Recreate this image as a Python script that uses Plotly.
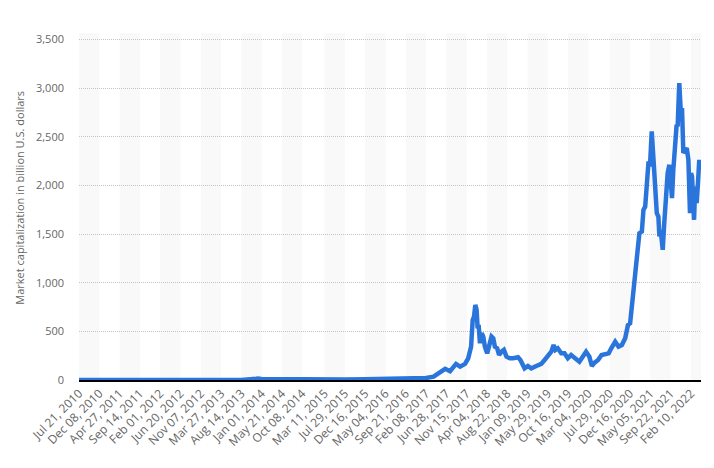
import plotly.graph_objects as go

# Tick labels (category labels shown on the x axis)
tick_dates = ["2010-07-21", "2010-12-08", "2011-04-27", "2011-09-14", "2012-02-01", "2012-06-20",
              "2012-11-07", "2013-03-27", "2013-08-14", "2014-01-01", "2014-05-21", "2014-10-08",
              "2015-03-11", "2015-07-29", "2015-12-16", "2016-05-04", "2016-09-21", "2017-02-08",
              "2017-06-28", "2017-11-15", "2018-04-04", "2018-08-22", "2019-01-09", "2019-05-29",
              "2019-10-16", "2020-03-04", "2020-07-29", "2020-12-16", "2021-05-05", "2021-09-22",
              "2022-02-10"]
tick_labels = ["Jul 21, 2010", "Dec 08, 2010", "Apr 27, 2011", "Sep 14, 2011", "Feb 01, 2012",
               "Jun 20, 2012", "Nov 07, 2012", "Mar 27, 2013", "Aug 14, 2013", "Jan 01, 2014",
               "May 21, 2014", "Oct 08, 2014", "Mar 11, 2015", "Jul 29, 2015", "Dec 16, 2015",
               "May 04, 2016", "Sep 21, 2016", "Feb 08, 2017", "Jun 28, 2017", "Nov 15, 2017",
               "Apr 04, 2018", "Aug 22, 2018", "Jan 09, 2019", "May 29, 2019", "Oct 16, 2019",
               "Mar 04, 2020", "Jul 29, 2020", "Dec 16, 2020", "May 05, 2021", "Sep 22, 2021",
               "Feb 10, 2022"]

# Market capitalization (billion U.S. dollars)
dates = ["2010-07-21", "2011-06-08", "2012-06-20", "2013-03-27", "2013-04-10", "2013-08-14",
         "2013-11-27", "2013-12-04", "2014-01-01", "2014-05-21", "2014-10-08", "2015-03-11",
         "2015-07-29", "2015-12-16", "2016-05-04", "2016-09-21", "2016-12-31", "2017-02-08",
         "2017-04-01", "2017-05-17", "2017-06-20", "2017-07-24", "2017-09-03", "2017-10-01",
         "2017-11-04", "2017-11-26", "2017-12-16", "2017-12-27", "2018-01-05", "2018-01-14",
         "2018-01-23", "2018-01-30", "2018-02-06", "2018-02-15", "2018-02-27", "2018-03-10",
         "2018-03-21", "2018-04-06", "2018-04-20", "2018-05-06", "2018-05-18", "2018-05-29",
         "2018-06-14", "2018-06-27", "2018-07-14", "2018-07-30", "2018-08-17", "2018-09-09",
         "2018-10-02", "2018-11-05", "2018-11-21", "2018-12-20", "2019-01-12", "2019-02-04",
         "2019-03-11", "2019-04-14", "2019-05-07", "2019-05-30", "2019-06-22", "2019-07-08",
         "2019-07-21", "2019-08-06", "2019-08-30", "2019-09-21", "2019-10-14", "2019-11-06",
         "2019-11-29", "2020-01-02", "2020-01-25", "2020-02-17", "2020-03-11", "2020-03-28",
         "2020-04-16", "2020-05-10", "2020-06-03", "2020-06-27", "2020-07-22", "2020-08-09",
         "2020-09-05", "2020-09-28", "2020-10-21", "2020-11-13", "2020-12-02", "2020-12-17",
         "2020-12-29", "2021-01-09", "2021-01-20", "2021-02-05", "2021-02-19", "2021-03-08",
         "2021-03-19", "2021-03-31", "2021-04-11", "2021-04-23", "2021-05-03", "2021-05-15",
         "2021-05-26", "2021-06-07", "2021-06-19", "2021-06-30", "2021-07-07", "2021-07-16",
         "2021-07-23", "2021-07-30", "2021-08-08", "2021-08-21", "2021-09-02", "2021-09-14",
         "2021-09-25", "2021-10-02", "2021-10-11", "2021-10-23", "2021-11-03", "2021-11-10",
         "2021-11-21", "2021-12-01", "2021-12-10", "2021-12-19", "2021-12-31", "2022-01-12",
         "2022-01-23", "2022-02-03", "2022-02-10", "2022-02-17", "2022-02-24", "2022-03-03",
         "2022-03-11", "2022-03-21", "2022-03-30", "2022-04-08"]
market_cap = [0.0, 0.1, 0.06, 1.0, 1.5, 1.2,
              12, 14, 10, 6, 5, 4,
              4.5, 6.5, 7.5, 11, 18, 20,
              35, 80, 115, 90, 165, 137,
              165, 223, 343, 617, 651, 772,
              720, 532, 566, 378, 480, 446,
              343, 274, 360, 446, 429, 343,
              326, 257, 291, 309, 240, 223,
              223, 233, 206, 120, 144, 120,
              144, 165, 206, 257, 291, 360,
              309, 326, 274, 274, 223, 257,
              223, 188, 240, 291, 240, 144,
              178, 206, 257, 267, 274, 326,
              394, 343, 360, 429, 566, 583,
              754, 926, 1029, 1200, 1509, 1526,
              1749, 1783, 1955, 2246, 2195, 2555,
              2298, 1955, 1715, 1680, 1475, 1543,
              1372, 1338, 1578, 1921, 2127, 2212,
              2058, 1870, 2161, 2367, 2624, 2607,
              3053, 2778, 2795, 2333, 2367, 2384,
              2264, 1715, 2127, 2092, 1886, 1646,
              1989, 1818, 2024, 2264]

y_title = "Market capitalization in billion U.S. dollars"

fig = go.Figure()

# alternating background bands between tick labels
shapes = []
band_edges = tick_dates + ["2022-04-20"]
for i in range(0, len(tick_dates), 2):
    shapes.append(dict(type="rect", xref="x", yref="y domain",
                       x0=band_edges[i], x1=band_edges[i + 1], y0=0, y1=1,
                       fillcolor="#f9f9f9", line=dict(width=0), layer="below"))

fig.add_trace(go.Scatter(x=dates, y=market_cap, mode="lines",
                         line=dict(color="#2a75dc", width=4.5, shape="linear"),
                         hoverinfo="x+y", showlegend=False))

fig.update_layout(
    width=714, height=468,
    margin=dict(l=79, r=13, t=33, b=88),
    paper_bgcolor="white", plot_bgcolor="white",
    font=dict(family="Open Sans, Arial, sans-serif", size=11, color="#666666"),
    shapes=shapes,
    annotations=[dict(text=y_title, xref="paper", yref="paper", x=-0.095, y=0.525,
                      xanchor="center", yanchor="middle", textangle=-90, showarrow=False,
                      font=dict(size=11, color="#666666"))],
    xaxis=dict(type="date", range=["2010-07-21", "2022-04-20"], automargin=False,
               tickmode="array", tickvals=tick_dates, ticktext=tick_labels,
               tickangle=-45, showgrid=False, zeroline=False,
               showline=True, linecolor="#000000", linewidth=1.5,
               ticks="", tickfont=dict(size=12, color="#666666")),
    yaxis=dict(range=[0, 3567], tickmode="linear", tick0=0, dtick=500, automargin=False,
               tickformat=",d", showgrid=True, gridcolor="#c4c4c4", griddash="1px,1px",
               gridwidth=1, zeroline=False, showline=False, ticks="",
               ticklabelstandoff=14,
               tickfont=dict(size=11, color="#666666")),
)

fig.write_html("out.html", config={"displayModeBar": False},
               post_script="document.body.style.margin='0';")
